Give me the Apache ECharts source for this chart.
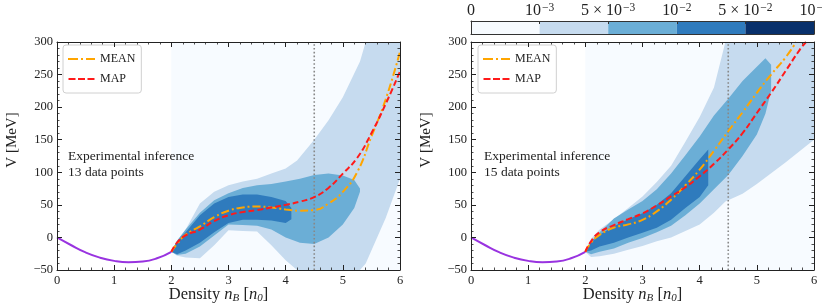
<!DOCTYPE html>
<html><head><meta charset="utf-8">
<script src="https://cdn.jsdelivr.net/npm/echarts@6/dist/echarts.min.js"></script>
<style>html,body{margin:0;padding:0;background:#fff}#c{width:822px;height:308px}</style>
</head><body><div id="c"></div>
<script>
// ---------- DATA ----------
const bandColors = ['#f7fbff', '#c6dbef', '#6baed6', '#2f7bbd', '#08306b'];
const cbLabels = ['0', '10{sup|\u22123}', '5 \u00d7 10{sup|\u22123}', '10{sup|\u22122}', '5 \u00d7 10{sup|\u22122}', '10{sup|\u22121}'];
const vlineX = 4.5;

// purple low-density curve (shared)
const crustX = [0, 0.25, 0.5, 0.75, 1, 1.25, 1.5, 1.75, 2];
const crustV = [0, -12, -23, -31, -36, -38, -37, -32, -22];

// background band (x 2..6) [n, lo, hi]
const bandBg = [[2, -50, 300], [6, -50, 300]];

// LEFT panel (13 data points) bands [n, lo, hi]
const L_band1 = [[2, -22, -22], [2.1, -28, -5], [2.25, -31, 12], [2.5, -32, 52], [2.75, -12, 70], [3, 11, 80], [3.25, 10, 86], [3.5, 9, 90], [3.75, -12, 98], [4, -35, 106], [4.2, -50, 118], [4.5, -50, 150], [4.75, -50, 180], [5, -50, 215], [5.3, -50, 270], [5.4, -40, 300], [5.5, -20, 300], [5.75, 30, 300], [6, 90, 300]];
const L_band2 = [[2, -22, -22], [2.1, -27, -5], [2.25, -25, 12], [2.5, -14, 38], [2.75, 3, 57], [3, 20, 68], [3.25, 19, 76], [3.5, 18, 80], [3.75, 12, 82], [4, 0, 86], [4.25, -8, 90], [4.5, -10, 96], [4.75, 0, 98], [5, 20, 95], [5.2, 45, 88], [5.3, 70, 75]];
const L_band3 = [[2, -22, -22], [2.1, -26, -6], [2.25, -20, 8], [2.5, -8, 34], [2.75, 8, 52], [3, 22, 62], [3.25, 27, 66], [3.5, 27, 66], [3.75, 26, 62], [4, 22, 56], [4.1, 28, 45]];
const L_meanX = [2, 2.1, 2.25, 2.5, 2.75, 3, 3.25, 3.5, 3.75, 4, 4.25, 4.5, 4.75, 5, 5.25, 5.5, 5.75, 6];
const L_meanV = [-22, -10, 4, 17, 31, 41, 46, 47.5, 46, 43, 41, 42, 52, 70, 100, 155, 212, 285];
const L_mapX = [2, 2.1, 2.25, 2.5, 2.75, 3, 3.25, 3.5, 3.75, 4, 4.25, 4.5, 4.75, 5, 5.25, 5.5, 5.75, 6];
const L_mapV = [-22, -8, 3, 12, 25, 34, 39, 42, 46, 50, 55, 62, 76, 98, 122, 160, 205, 255];

// RIGHT panel (15 data points) bands [n, lo, hi]
const R_band1 = [[2, -22, -22], [2.1, -30, -2], [2.25, -29, 12], [2.5, -25, 28], [2.75, -19, 45], [3, -13, 63], [3.25, -6, 85], [3.5, 0, 110], [3.75, 10, 147], [4, 20, 185], [4.25, 38, 230], [4.45, 55, 300], [4.75, 67, 300], [5, 82, 300], [5.5, 115, 300], [6, 150, 300]];
const R_band2 = [[2, -22, -22], [2.1, -26, -6], [2.25, -22, 8], [2.5, -17, 29], [2.75, -8, 43], [3, -1, 56], [3.25, 8, 74], [3.5, 18, 98], [3.75, 34, 126], [4, 52, 155], [4.25, 74, 187], [4.5, 96, 213], [4.75, 125, 240], [5, 158, 262], [5.15, 190, 275], [5.25, 225, 265]];
const R_band3 = [[2, -22, -22], [2.1, -20, -8], [2.25, -14, 4], [2.5, -8, 17], [2.75, 0, 28], [3, 7, 37], [3.25, 15, 50], [3.5, 27, 68], [3.75, 45, 94], [4, 62, 120], [4.15, 80, 135]];
const R_meanX = [2, 2.1, 2.25, 2.5, 2.75, 3, 3.25, 3.5, 3.75, 4, 4.25, 4.5, 4.75, 5, 5.25, 5.5, 5.69];
const R_meanV = [-22, -8, 4, 15, 20, 27, 40, 58, 80, 104, 133, 163, 192, 222, 250, 276, 300];
const R_mapX = [2, 2.1, 2.25, 2.5, 2.75, 3, 3.25, 3.5, 3.75, 4, 4.25, 4.5, 4.75, 5, 5.25, 5.5, 5.75, 5.86];
const R_mapV = [-22, -6, 8, 19, 28, 37, 49, 63, 77, 94, 113, 135, 160, 191, 222, 255, 288, 300];

const annotL = 'Experimental inference\n13 data points';
const annotR = 'Experimental inference\n15 data points';

// ---------- CHART ----------
const FONT = '"Liberation Serif", "DejaVu Serif", serif';
const INK = '#222';
const zip = (a, b) => a.map((v, i) => [v, b[i]]);

function polyRender(band, color) {
  return function (params, api) {
    if (params.dataIndex !== 0) return null;
    const pts = [];
    for (let i = 0; i < band.length; i++) pts.push(api.coord([band[i][0], band[i][2]]));
    for (let i = band.length - 1; i >= 0; i--) pts.push(api.coord([band[i][0], band[i][1]]));
    return { type: 'polygon', shape: { points: pts }, style: { fill: color } };
  };
}

const gridBase = { containLabel: false, outerBoundsMode: 'none' };
const grids = [
  Object.assign({ left: 57, top: 42, width: 343, height: 228 }, gridBase),
  Object.assign({ left: 471, top: 42, width: 343, height: 228 }, gridBase),
  Object.assign({ left: 471, top: 21, width: 343, height: 13 }, gridBase)
];

const xAxes = [], yAxes = [], series = [];
const tickStyle = { inside: true, length: 5, lineStyle: { color: INK, width: 1 } };
const minorStyle = { show: true, splitNumber: 5, length: 2.5, lineStyle: { color: INK, width: 0.8 } };
const frameLine = { show: true, onZero: false, lineStyle: { color: INK, width: 1 } };

[0, 1].forEach(g => {
  const lbl = { fontFamily: FONT, fontSize: 12.5, color: INK };
  xAxes.push({
    type: 'value', gridIndex: g, min: 0, max: 6, interval: 1, position: 'bottom', z: 10,
    axisLine: frameLine, axisTick: tickStyle, minorTick: minorStyle, splitLine: { show: false },
    axisLabel: Object.assign({ margin: 4 }, lbl),
    name: 'Density {i|n}{sub|B} [{i|n}{sub|0}]', nameLocation: 'middle', nameGap: 16, nameMoveOverlap: false,
    nameTextStyle: {
      fontFamily: FONT, fontSize: 16.5, color: INK, verticalAlign: 'top', padding: [0, 20, 0, 0],
      rich: {
        i: { fontFamily: FONT, fontSize: 16.5, fontStyle: 'italic', color: INK },
        sub: { fontFamily: FONT, fontSize: 11, fontStyle: 'italic', color: INK, verticalAlign: 'bottom', padding: [7, 0, 0, 0] }
      }
    }
  });
  xAxes.push({
    type: 'value', gridIndex: g, min: 0, max: 6, interval: 1, position: 'top', z: 10,
    axisLine: frameLine, axisTick: tickStyle, minorTick: minorStyle, splitLine: { show: false }, axisLabel: { show: false }
  });
  yAxes.push({
    type: 'value', gridIndex: g, min: -50, max: 300, interval: 50, position: 'left', z: 10,
    axisLine: frameLine, axisTick: tickStyle, minorTick: minorStyle, splitLine: { show: false },
    axisLabel: Object.assign({ margin: 4, formatter: v => String(v).replace('-', '\u2212') }, lbl),
    name: 'V [MeV]', nameLocation: 'middle', nameGap: 37, nameRotate: 90, nameMoveOverlap: false,
    nameTextStyle: { fontFamily: FONT, fontSize: 15, color: INK, padding: [0, 0, 0, 32] }
  });
  yAxes.push({
    type: 'value', gridIndex: g, min: -50, max: 300, interval: 50, position: 'right', z: 10,
    axisLine: frameLine, axisTick: tickStyle, minorTick: minorStyle, splitLine: { show: false }, axisLabel: { show: false }
  });
});

// colorbar axes
const cbLine = { show: true, onZero: false, lineStyle: { color: '#333' } };
xAxes.push({
  type: 'value', gridIndex: 2, min: 0, max: 5, interval: 1, position: 'top', z: 10,
  axisLine: cbLine, axisTick: { inside: true, length: 3, lineStyle: { color: '#333' } }, splitLine: { show: false },
  axisLabel: {
    margin: 2, fontFamily: FONT, fontSize: 16, color: INK, showMinLabel: true, showMaxLabel: true,
    alignMinLabel: 'center', alignMaxLabel: 'center', hideOverlap: false,
    formatter: v => cbLabels[v],
    rich: { sup: { fontFamily: FONT, fontSize: 11.5, color: INK, verticalAlign: 'top', padding: [0, 0, 5, 1] } }
  }
});
xAxes.push({
  type: 'value', gridIndex: 2, min: 0, max: 5, position: 'bottom', z: 10,
  axisLine: cbLine, axisTick: { show: false }, axisLabel: { show: false }, splitLine: { show: false }
});
yAxes.push({
  type: 'value', gridIndex: 2, min: 0, max: 1, position: 'left', z: 10,
  axisLine: cbLine, axisTick: { show: false }, axisLabel: { show: false }, splitLine: { show: false }
});
yAxes.push({
  type: 'value', gridIndex: 2, min: 0, max: 1, position: 'right', z: 10,
  axisLine: cbLine, axisTick: { show: false }, axisLabel: { show: false }, splitLine: { show: false }
});

function addPanel(g, bands, meanX, meanV, mapX, mapV) {
  const xi = g * 2, yi = g * 2;
  const bandList = [bandBg, bands[0], bands[1], bands[2]];
  bandList.forEach((b, k) => {
    series.push({
      type: 'custom', xAxisIndex: xi, yAxisIndex: yi, data: b, encode: { x: 0, y: [1, 2] },
      renderItem: polyRender(b, bandColors[k]), clip: true, silent: true, z: 1 + k * 0.01
    });
  });
  series.push({
    type: 'line', xAxisIndex: xi, yAxisIndex: yi, data: [[vlineX, -50], [vlineX, 300]],
    symbol: 'none', silent: true, z: 2,
    lineStyle: { color: '#888', width: 1.6, type: [1.6, 2.2] }
  });
  series.push({
    type: 'line', xAxisIndex: xi, yAxisIndex: yi, data: zip(crustX, crustV), smooth: true,
    symbol: 'none', silent: true, z: 3, lineStyle: { color: '#9933e0', width: 2 }
  });
  series.push({
    name: 'MEAN', type: 'line', xAxisIndex: xi, yAxisIndex: yi, data: zip(meanX, meanV), smooth: true,
    symbol: 'none', silent: true, z: 4, clip: true, color: '#ffa500',
    lineStyle: { color: '#ffa500', width: 2, type: [8, 3, 2, 3] }
  });
  series.push({
    name: 'MAP', type: 'line', xAxisIndex: xi, yAxisIndex: yi, data: zip(mapX, mapV), smooth: true,
    symbol: 'none', silent: true, z: 4, clip: true, color: '#ff1a1a',
    lineStyle: { color: '#ff1a1a', width: 2, type: [6, 3] }
  });
}
addPanel(0, [L_band1, L_band2, L_band3], L_meanX, L_meanV, L_mapX, L_mapV);
addPanel(1, [R_band1, R_band2, R_band3], R_meanX, R_meanV, R_mapX, R_mapV);

// colorbar cells
const cbCells = [0, 1, 2, 3, 4];
series.push({
  type: 'custom', xAxisIndex: 4, yAxisIndex: 4, data: cbCells.map(i => [i, 0]), encode: { x: 0, y: 1 },
  silent: true, z: 1,
  renderItem: function (params, api) {
    const i = api.value(0);
    const p0 = api.coord([i, 1]), p1 = api.coord([i + 1, 0]);
    return { type: 'rect', shape: { x: p0[0], y: p0[1], width: p1[0] - p0[0], height: p1[1] - p0[1] }, style: { fill: bandColors[i] } };
  }
});

const iconMean = 'path://M0,0h10v2h-10z M13,0h2v2h-2z M18,0h9v2h-9z';
const iconMap = 'path://M0,0h7v2h-7z M9.5,0h7v2h-7z M19,0h7v2h-7z';
const legendBase = {
  data: [{ name: 'MEAN', icon: iconMean }, { name: 'MAP', icon: iconMap }],
  orient: 'vertical', itemWidth: 27, itemHeight: 2, itemGap: 6,
  padding: [7, 6, 7, 5], borderColor: '#d0d0d0', borderWidth: 1, borderRadius: 3,
  backgroundColor: 'rgba(255,255,255,0.85)', selectedMode: false,
  textStyle: { fontFamily: FONT, fontSize: 12, color: INK, lineHeight: 14 }
};

const option = {
  animation: false,
  backgroundColor: '#fff',
  grid: grids,
  xAxis: xAxes,
  yAxis: yAxes,
  series: series,
  legend: [
    Object.assign({ left: 63, top: 45 }, legendBase),
    Object.assign({ left: 478, top: 45 }, legendBase)
  ],
  graphic: [
    { type: 'text', left: 68, top: 148, z: 10, style: { text: annotL, font: '13.5px ' + FONT, fill: INK, lineHeight: 16.6 } },
    { type: 'text', left: 484, top: 148, z: 10, style: { text: annotR, font: '13.5px ' + FONT, fill: INK, lineHeight: 16.6 } }
  ]
};

const chart = echarts.init(document.getElementById('c'), null, { renderer: 'canvas' });
chart.setOption(option);
</script>
</body></html>
